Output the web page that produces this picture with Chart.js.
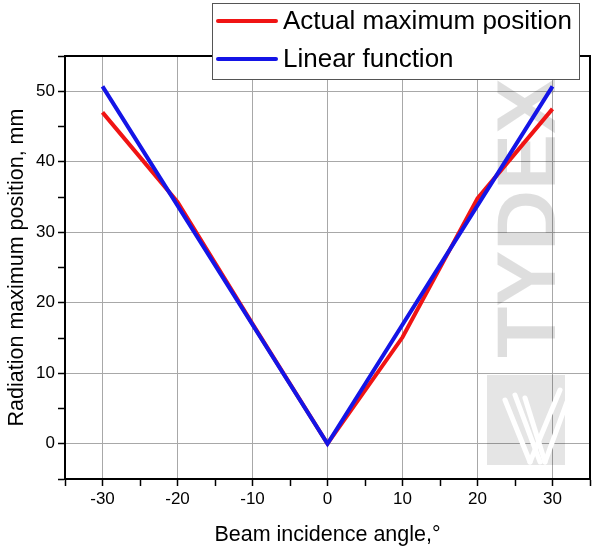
<!DOCTYPE html>
<html>
<head>
<meta charset="utf-8">
<script src="https://cdn.jsdelivr.net/npm/chart.js@4/dist/chart.umd.min.js"></script>
<style>
  html, body { margin: 0; background: #fff; }
</style>
</head>
<body>
<canvas id="chart" width="600" height="552"></canvas>
<script>
// values
const angles = [-30, -20, -10, 0, 10, 20, 30];
const actualPos = [47.0, 34.3, 17.0, 0, 15.1, 34.8, 47.5];
const linearAngles = [-30, 0, 30];
const linearPos = [50.7, 0, 50.7];
const xTicks = [-30, -20, -10, 0, 10, 20, 30];
const yTicks = [0, 10, 20, 30, 40, 50];

const FONT = "'Liberation Sans', Arial, sans-serif";

const toPoints = (xs, ys) => xs.map((x, i) => ({ x, y: ys[i] }));

// faint TYDEX watermark behind the lines
const watermark = {
  id: 'watermark',
  beforeDatasetsDraw(chart) {
    const c = chart.ctx;
    c.save();
    c.fillStyle = 'rgba(0,0,0,0.13)';
    c.translate(532, 218);
    c.rotate(-Math.PI / 2);
    c.font = `bold 84px ${FONT}`;
    c.textAlign = 'center';
    c.textBaseline = 'middle';
    c.fillText('TYDEX', 0, 0);
    c.restore();

    c.save();
    c.fillStyle = 'rgba(0,0,0,0.10)';
    c.fillRect(487, 375, 78, 90);
    c.strokeStyle = '#fff';
    c.lineWidth = 5;
    c.lineCap = 'round';
    [[505, 400, 530, 462], [515, 395, 540, 462], [525, 398, 545, 462], [545, 462, 575, 380], [530, 462, 560, 390]].forEach(l => {
      c.beginPath(); c.moveTo(l[0], l[1]); c.lineTo(l[2], l[3]); c.stroke();
    });
    c.restore();
  }
};

// closed frame around the plot area
const frame = {
  id: 'frame',
  beforeDatasetsDraw(chart) {
    const a = chart.chartArea;
    const c = chart.ctx;
    c.save();
    c.strokeStyle = '#000';
    c.lineWidth = 2;
    c.strokeRect(a.left, a.top, a.right - a.left, a.bottom - a.top);
    c.restore();
  }
};

// boxed legend overlapping the top of the plot
const boxLegend = {
  id: 'boxLegend',
  afterDraw(chart) {
    const c = chart.ctx;
    const sets = chart.data.datasets;
    c.save();
    c.fillStyle = '#fff';
    c.fillRect(212, 3, 368, 77);
    c.strokeStyle = '#555';
    c.lineWidth = 1;
    c.strokeRect(212.5, 3.5, 367, 76);
    c.font = `26px ${FONT}`;
    c.textBaseline = 'middle';
    sets.forEach((ds, i) => {
      const y = 21 + i * 38;
      c.strokeStyle = ds.borderColor;
      c.lineWidth = 4;
      c.lineCap = 'round';
      c.beginPath(); c.moveTo(218, y); c.lineTo(276, y); c.stroke();
      c.fillStyle = '#000';
      c.fillText(ds.label, 283, y + 1);
    });
    c.restore();
  }
};

const axisBase = (min, max, title) => ({
  type: 'linear',
  min, max,
  border: { display: true, color: '#000', width: 2 },
  grid: {
    color: ctx => (ctx.tick && ctx.tick.value % 10 === 0 ? '#a8a8a8' : 'rgba(0,0,0,0)'),
    tickColor: '#000',
    tickLength: 7,
    tickWidth: 1.5,
    lineWidth: 1
  },
  ticks: {
    stepSize: 5,
    autoSkip: false,
    maxRotation: 0,
    color: '#000',
    padding: 3,
    font: { family: FONT, size: 17 },
    callback: v => (v % 10 === 0 ? String(v) : '')
  },
  title: { display: true, text: title, color: '#000', font: { family: FONT, size: 21.5 } }
});

const xScale = axisBase(-35, 35, 'Beam incidence angle,\u00b0');
xScale.afterFit = s => { s.height = 73; };
const yScale = axisBase(-5, 55, 'Radiation maximum position, mm');
yScale.afterFit = s => { s.width = 65; };

new Chart(document.getElementById('chart'), {
  type: 'line',
  data: {
    datasets: [
      {
        label: 'Actual maximum position',
        data: toPoints(angles, actualPos),
        borderColor: '#f01414',
        borderWidth: 4,
        pointRadius: 0,
        tension: 0,
        order: 2
      },
      {
        label: 'Linear function',
        data: toPoints(linearAngles, linearPos),
        borderColor: '#1414e6',
        borderWidth: 4,
        pointRadius: 0,
        tension: 0,
        order: 1
      }
    ]
  },
  options: {
    responsive: false,
    animation: false,
    layout: { padding: { top: 56, right: 10, left: 0, bottom: 0 } },
    plugins: { legend: { display: false }, tooltip: { enabled: false } },
    scales: { x: xScale, y: yScale }
  },
  plugins: [watermark, frame, boxLegend]
});
</script>
</body>
</html>
